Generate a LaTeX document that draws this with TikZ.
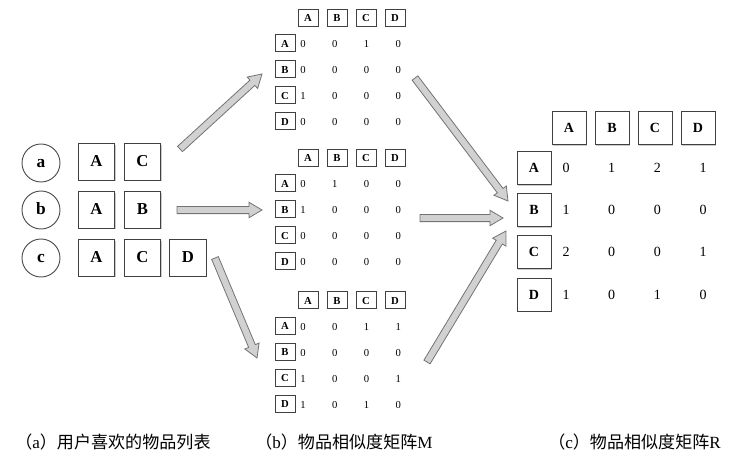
\documentclass[tikz,border=0pt]{standalone}
\usepackage{fontspec}
\setmainfont{Liberation Serif}
\newfontfamily\cjk{Noto Sans CJK SC}
\usepackage{tikz}
\usetikzlibrary{calc}
\usetikzlibrary{shadows}
\tikzset{
    user/.style={circle, draw=black!70, line width=0.7pt, minimum size=28.5pt, inner sep=0pt,
        text height=0.68em, text depth=0pt, font=\fontsize{13}{13}\selectfont\bfseries},
    item/.style={rectangle, draw=black!75, fill=white, line width=0.7pt, minimum size=27.5pt, inner sep=0pt,
        text height=0.66em, text depth=0pt, font=\fontsize{12.5}{12.5}\selectfont\bfseries,
        drop shadow={shadow xshift=0.8pt, shadow yshift=-0.8pt, fill=black!35, opacity=0.6}},
    mhead/.style={rectangle, draw=black!75, fill=white, line width=0.6pt, minimum width=15pt, minimum height=12.7pt,
        inner sep=0pt, text height=0.66em, text depth=0pt, font=\fontsize{8}{8}\selectfont\bfseries,
        drop shadow={shadow xshift=0.6pt, shadow yshift=-0.6pt, fill=black!35, opacity=0.6}},
    mval/.style={inner sep=0pt, text height=0.68em, text depth=0pt, font=\fontsize{8}{8}\selectfont},
    rhead/.style={rectangle, draw=black!75, fill=white, line width=0.7pt, minimum width=25.5pt, minimum height=24.7pt,
        inner sep=0pt, text height=0.66em, text depth=0pt, font=\fontsize{10.5}{10.5}\selectfont\bfseries,
        drop shadow={shadow xshift=0.8pt, shadow yshift=-0.8pt, fill=black!35, opacity=0.6}},
    rval/.style={inner sep=0pt, text height=0.68em, text depth=0pt, font=\fontsize{10.5}{10.5}\selectfont},
    caption/.style={anchor=west, inner sep=0pt, font=\fontsize{12.8}{15}\selectfont},
    blockarr/.style={draw=black!55, fill=black!18, line width=0.6pt, line join=miter},
}
% fat grey arrow from #1 to tip #2
\newcommand{\blockarrow}[2]{%
    \coordinate (bh) at ($(#2)!9.75pt!(#1)$);
    \draw[blockarr] ($(#1)!2.7pt!90:(#2)$) -- ($(bh)!2.7pt!90:(#2)$) -- ($(bh)!5.8pt!90:(#2)$)
        -- (#2) -- ($(bh)!5.8pt!-90:(#2)$) -- ($(bh)!2.7pt!-90:(#2)$) -- ($(#1)!2.7pt!-90:(#2)$) -- cycle;}

\begin{document}
\begin{tikzpicture}[x=0.75pt, y=-0.75pt]
    \useasboundingbox (0,0) rectangle (729,457);
% users and their items
    \node[user] (ua) at (41,163) {a};
    \node[user] (ub) at (41,210) {b};
    \node[user] (uc) at (41,258) {c};
    \node[item] (ua1) at (96.5,162) {A};
    \node[item] (ua2) at (142.5,162) {C};
    \node[item] (ub1) at (96.5,210) {A};
    \node[item] (ub2) at (142.5,210) {B};
    \node[item] (uc1) at (96.5,258) {A};
    \node[item] (uc2) at (142.5,258) {C};
    \node[item] (uc3) at (188,258) {D};
%
\begin{scope}[shift={(0,17.5)}]
    \foreach \c [count=\i from 0] in {A,B,C,D} {
        \node[mhead] (ma-\c) at (308+29*\i,0) {\c};
        \node[mhead] (ma-r\c) at (285,25.5+26*\i) {\c};
    }
    \foreach \r/\vals [count=\j from 0] in {A/{0,0,1,0},B/{0,0,0,0},C/{1,0,0,0},D/{0,0,0,0}}
        \foreach \v [count=\i from 0] in \vals
            \node[mval] (ma-\r\i) at (303+31.8*\i,25.5+26*\j) {\v};
\end{scope}
\begin{scope}[shift={(0,157.5)}]
    \foreach \c [count=\i from 0] in {A,B,C,D} {
        \node[mhead] (mb-\c) at (308+29*\i,0) {\c};
        \node[mhead] (mb-r\c) at (285,25.5+26*\i) {\c};
    }
    \foreach \r/\vals [count=\j from 0] in {A/{0,1,0,0},B/{1,0,0,0},C/{0,0,0,0},D/{0,0,0,0}}
        \foreach \v [count=\i from 0] in \vals
            \node[mval] (mb-\r\i) at (303+31.8*\i,25.5+26*\j) {\v};
\end{scope}
\begin{scope}[shift={(0,300)}]
    \foreach \c [count=\i from 0] in {A,B,C,D} {
        \node[mhead] (mc-\c) at (308+29*\i,0) {\c};
        \node[mhead] (mc-r\c) at (285,25.5+26*\i) {\c};
    }
    \foreach \r/\vals [count=\j from 0] in {A/{0,0,1,1},B/{0,0,0,0},C/{1,0,0,1},D/{1,0,1,0}}
        \foreach \v [count=\i from 0] in \vals
            \node[mval] (mc-\r\i) at (303+31.8*\i,25.5+26*\j) {\v};
\end{scope}
% result matrix R
    \foreach \c [count=\i from 0] in {A,B,C,D} {
        \node[rhead] (r-\c) at (569+43*\i,128) {\c};
        \node[rhead] (r-r\c) at (534,168+42.2*\i) {\c};
    }
    \foreach \r/\vals [count=\j from 0] in {A/{0,1,2,1},B/{1,0,0,0},C/{2,0,0,1},D/{1,0,1,0}}
        \foreach \v [count=\i from 0] in \vals
            \node[rval] (r-\r\i) at (566+45.7*\i,168+42.2*\j) {\v};
% arrows
    \coordinate (s1) at (180,149);  \coordinate (t1) at (262,74);
    \coordinate (s2) at (177,210);  \coordinate (t2) at (262,210);
    \coordinate (s3) at (215,258);  \coordinate (t3) at (257,358);
    \coordinate (s4) at (415,78);   \coordinate (t4) at (508,201);
    \coordinate (s5) at (420,218);  \coordinate (t5) at (503,218);
    \coordinate (s6) at (427,362);  \coordinate (t6) at (506,231);
    \blockarrow{s1}{t1}
    \blockarrow{s2}{t2}
    \blockarrow{s3}{t3}
    \blockarrow{s4}{t4}
    \blockarrow{s5}{t5}
    \blockarrow{s6}{t6}
% captions
    \node[caption] (capa) at (15,442) {{\cjk （}a{\cjk ）用户喜欢的物品列表}};
    \node[caption] (capb) at (255,442) {{\cjk （}b{\cjk ）物品相似度矩阵}M};
    \node[caption] (capc) at (548,442) {{\cjk （}c{\cjk ）物品相似度矩阵}R};
\end{tikzpicture}
\end{document}
